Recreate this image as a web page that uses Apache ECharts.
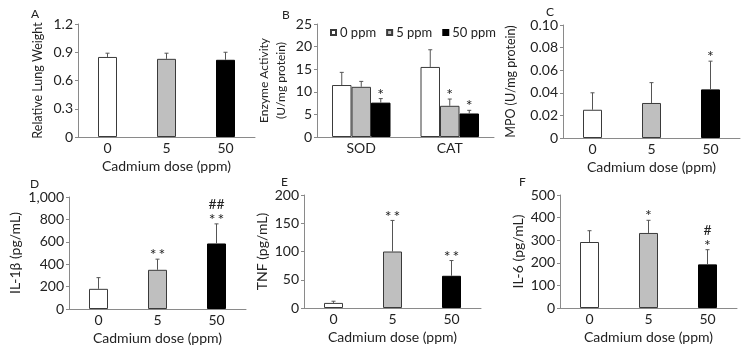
<!DOCTYPE html>
<html><head><meta charset="utf-8">
<script src="https://cdn.jsdelivr.net/npm/echarts@6/dist/echarts.min.js"></script>
<style>html,body{margin:0;padding:0;background:#fff}#c{width:747px;height:346px}</style>
</head><body><div id="c"></div>
<script>
// ---- data ----
const doseCats = ['0', '5', '50'];
const enzymeCats = ['SOD', 'CAT'];
const legendNames = ['0 ppm', '5 ppm', '50 ppm'];

const lungMean = [0.85, 0.83, 0.82];
const lungSD   = [0.04, 0.06, 0.08];
const lungSig  = ['', '', ''];

// enzyme: [SOD, CAT] per dose group
const enz0Mean = [11.5, 15.5]; const enz0SD = [2.8, 3.8]; const enz0Sig = ['', ''];
const enz5Mean = [11.1, 6.9];  const enz5SD = [1.2, 1.5]; const enz5Sig = ['', '*'];
const enz50Mean = [7.6, 5.2];  const enz50SD = [0.9, 0.7]; const enz50Sig = ['*', '*'];

const mpoMean = [0.025, 0.031, 0.043];
const mpoSD   = [0.015, 0.018, 0.025];
const mpoSig  = ['', '', '*'];

const il1bMean = [180, 350, 585];
const il1bSD   = [100, 95, 175];
const il1bSig  = ['', '**', '##\n**'];

const tnfMean = [9, 100, 57];
const tnfSD   = [3, 55, 27];
const tnfSig  = ['', '**', '**'];

const il6Mean = [292, 332, 193];
const il6SD   = [50, 56, 65];
const il6Sig  = ['', '*', '#\n*'];

// ---- styles ----
const FONT = 'Lato';
const TXT = '#222';
const AX = '#8a8a8a';
const fills = ['#ffffff', '#bfbfbf', '#000000'];
const borders = ['#3a3a3a', '#3a3a3a', '#000000'];

const grids = [
  {left: 78,  top: 24,  width: 177, height: 113},
  {left: 317, top: 24,  width: 177, height: 113},
  {left: 563, top: 25,  width: 177, height: 113},
  {left: 69,  top: 197, width: 177, height: 113},
  {left: 304, top: 195, width: 177, height: 113},
  {left: 560, top: 195, width: 177, height: 113}
];

function xAxis(gi, cats, name) {
  return {
    gridIndex: gi, type: 'category', data: cats,
    axisLine: {lineStyle: {color: AX, width: 1}},
    axisTick: {show: false},
    axisLabel: {color: TXT, fontSize: 14, fontFamily: FONT, margin: 4},
    name: name || '', nameLocation: 'middle', nameGap: 22,
    nameTextStyle: {color: TXT, fontSize: 14, fontFamily: FONT}
  };
}
function yAxis(gi, max, interval, name, fmt, gap, fs, lh) {
  return {
    gridIndex: gi, type: 'value', min: 0, max: max, interval: interval,
    axisLine: {show: true, lineStyle: {color: AX, width: 1}},
    axisTick: {show: true, length: 3, lineStyle: {color: AX}},
    splitLine: {show: false},
    axisLabel: {color: TXT, fontSize: 14, fontFamily: FONT, margin: 5, formatter: fmt},
    name: name, nameLocation: 'middle', nameGap: gap, nameRotate: 90,
    nameTextStyle: {color: TXT, fontSize: fs, fontFamily: FONT, lineHeight: lh}
  };
}

function errSeries(gi, means, sds, sigs, offset) {
  return {
    type: 'custom', xAxisIndex: gi, yAxisIndex: gi, z: 5,
    data: means.map((m, i) => [i, m, sds[i]]),
    renderItem: function (params, api) {
      const i = api.value(0), v = api.value(1), e = api.value(2);
      const p0 = api.coord([i, v]);
      const p1 = api.coord([i, v + e]);
      const x = p0[0] + offset;
      const sig = sigs[params.dataIndex];
      const ch = [
        {type: 'line', shape: {x1: x, y1: p0[1], x2: x, y2: p1[1]}, style: {stroke: '#555', lineWidth: 1}},
        {type: 'line', shape: {x1: x - 2, y1: p1[1], x2: x + 2, y2: p1[1]}, style: {stroke: '#555', lineWidth: 1}}
      ];
      if (sig) {
        const lines = sig.split('\n').reverse();
        lines.forEach((t, j) => {
          const isHash = t.indexOf('#') >= 0;
          ch.push({type: 'text', x: x, y: p1[1] - (isHash ? 9 : 4) - j * 10,
            style: {text: isHash ? t : t.split('').join('\u2009'), fill: TXT, fontSize: isHash ? 14 : 16, fontFamily: FONT,
              align: 'center', verticalAlign: 'middle'}});
        });
      }
      return {type: 'group', children: ch};
    }
  };
}

function singleBars(gi, means, sds, sigs) {
  return [{
    type: 'bar', xAxisIndex: gi, yAxisIndex: gi, barWidth: 19,
    data: means.map((m, i) => ({value: m, itemStyle: {color: fills[i], borderColor: borders[i], borderWidth: 1}}))
  }, errSeries(gi, means, sds, sigs, 0)];
}

const series = [];
series.push(...singleBars(0, lungMean, lungSD, lungSig));
const enzM = [enz0Mean, enz5Mean, enz50Mean];
const enzS = [enz0SD, enz5SD, enz50SD];
const enzG = [enz0Sig, enz5Sig, enz50Sig];
for (let k = 0; k < 3; k++) {
  series.push({
    type: 'bar', name: legendNames[k], xAxisIndex: 1, yAxisIndex: 1, barWidth: 19.5, barGap: '0%',
    itemStyle: {color: fills[k], borderColor: borders[k], borderWidth: 1},
    data: enzM[k]
  });
}
for (let k = 0; k < 3; k++) series.push(errSeries(1, enzM[k], enzS[k], enzG[k], (k - 1) * 19.5));
series.push(...singleBars(2, mpoMean, mpoSD, mpoSig));
series.push(...singleBars(3, il1bMean, il1bSD, il1bSig));
series.push(...singleBars(4, tnfMean, tnfSD, tnfSig));
series.push(...singleBars(5, il6Mean, il6SD, il6Sig));

const letter = (t, x, y) => ({type: 'text', left: x, top: y, style: {text: t, fill: TXT, fontSize: 12, fontFamily: FONT}});

const option = {
  animation: false,
  backgroundColor: '#fff',
  grid: grids,
  legend: {
    data: legendNames, left: 325, top: 21, itemWidth: 5, itemHeight: 5, itemGap: 10, icon: 'rect',
    textStyle: {color: TXT, fontSize: 13, fontFamily: FONT, padding: [0, 0, 0, -1]}
  },
  xAxis: [
    xAxis(0, doseCats, 'Cadmium dose (ppm)'),
    xAxis(1, enzymeCats, ''),
    xAxis(2, doseCats, 'Cadmium dose (ppm)'),
    xAxis(3, doseCats, 'Cadmium dose (ppm)'),
    xAxis(4, doseCats, 'Cadmium dose (ppm)'),
    xAxis(5, doseCats, 'Cadmium dose (ppm)')
  ],
  yAxis: [
    yAxis(0, 1.2, 0.3, 'Relative Lung Weight', v => v === 0 ? '0' : v.toFixed(1), 32, 12.5, 16),
    yAxis(1, 25, 5, 'Enzyme Activity\n(U/mg protein)', v => String(v), 27, 12, 17),
    yAxis(2, 0.1, 0.02, 'MPO (U/mg protein)', v => v === 0 ? '0' : v.toFixed(2), 44, 12.5, 16),
    yAxis(3, 1000, 200, 'IL-1β (pg/mL)', v => v.toLocaleString('en-US'), 36, 14, 17),
    yAxis(4, 200, 50, 'TNF (pg/mL)', v => String(v), 31, 14, 17),
    yAxis(5, 500, 100, 'IL-6 (pg/mL)', v => String(v), 32, 14, 17)
  ],
  series: series,
  graphic: [
    letter('A', 31, 8), letter('B', 282, 9), letter('C', 546, 6),
    letter('D', 30, 178), letter('E', 281, 176), letter('F', 519, 176)
  ]
};
const chart = echarts.init(document.getElementById('c'), null, {renderer: 'canvas'});
chart.setOption(option);
</script></body></html>
